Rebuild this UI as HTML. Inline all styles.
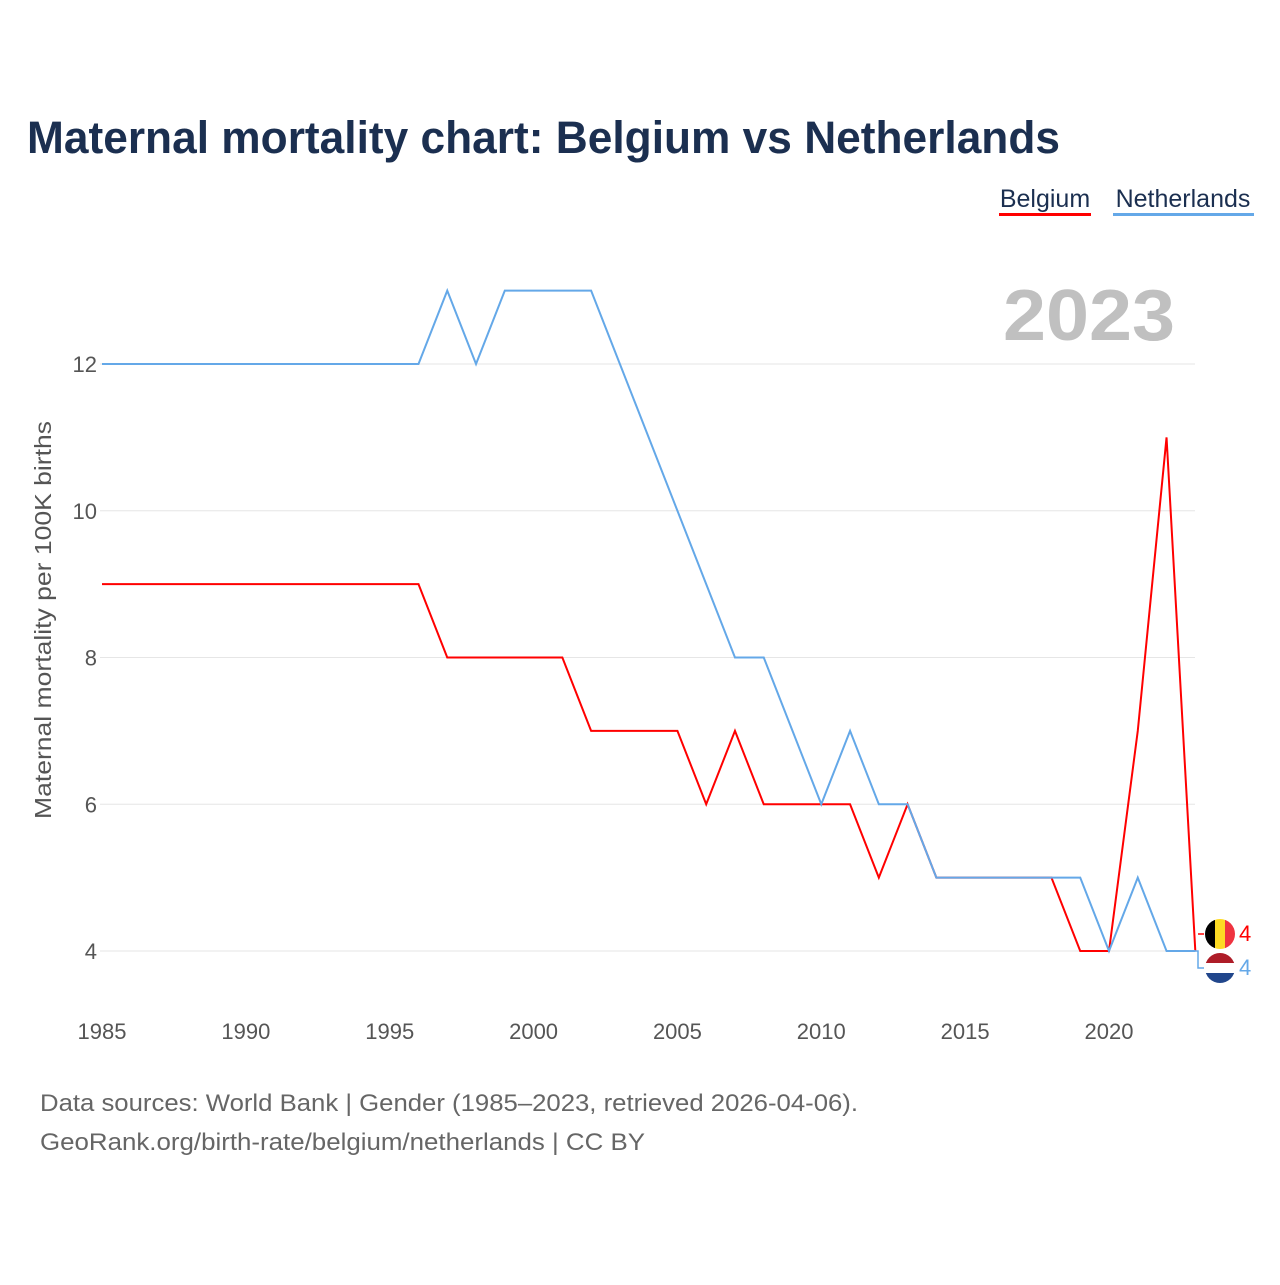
<!DOCTYPE html>
<html><head><meta charset="utf-8"><style>
body{margin:0;background:#fff;}
svg text{font-family:"Liberation Sans",sans-serif;}
</style></head><body>
<svg width="1280" height="1280" viewBox="0 0 1280 1280" xmlns="http://www.w3.org/2000/svg">
<defs>
<clipPath id="cb"><circle cx="1220" cy="934" r="15"/></clipPath>
<clipPath id="cn"><circle cx="1220" cy="968" r="15"/></clipPath>
</defs>
<text x="27" y="153" font-size="45" font-weight="bold" fill="#1b2f50" textLength="1033" lengthAdjust="spacingAndGlyphs">Maternal mortality chart: Belgium vs Netherlands</text>
<g>
<text x="1045" y="207" font-size="25" fill="#1b2f50" text-anchor="middle">Belgium</text>
<rect x="999" y="213" width="92" height="3" fill="#ff0000"/></g>
<g>
<text x="1183" y="207" font-size="25" fill="#1b2f50" text-anchor="middle">Netherlands</text>
<rect x="1113" y="213" width="141" height="3" fill="#64a8e8"/></g>
<text x="1175" y="340" font-size="72" font-weight="bold" fill="#c0c0c0" text-anchor="end" textLength="172" lengthAdjust="spacingAndGlyphs">2023</text>
<text transform="translate(51,620) rotate(-90)" font-size="23" fill="#555" text-anchor="middle" textLength="398" lengthAdjust="spacingAndGlyphs">Maternal mortality per 100K births</text>
<g id="grid"></g><g id="lines"></g>
<g>
<path d="M1198 934H1204" stroke="#ff0000" stroke-width="1.5"/>
<path d="M1195 951H1198V968H1204" stroke="#64a8e8" stroke-width="1.5" fill="none"/>
<g clip-path="url(#cb)"><rect x="1205" y="919" width="10" height="30" fill="#000"/><rect x="1215" y="919" width="10" height="30" fill="#fdda24"/><rect x="1225" y="919" width="10" height="30" fill="#ef3340"/></g>
<g clip-path="url(#cn)"><rect x="1205" y="953" width="30" height="10" fill="#ae1c28"/><rect x="1205" y="963" width="30" height="10" fill="#fff"/><rect x="1205" y="973" width="30" height="10" fill="#21468b"/></g>
<text x="1239" y="941" font-size="22" fill="#ff0000">4</text>
<text x="1239" y="975" font-size="22" fill="#64a8e8">4</text>
</g>
<text x="40" y="1111" font-size="24" fill="#666" textLength="818" lengthAdjust="spacingAndGlyphs">Data sources: World Bank | Gender (1985–2023, retrieved 2026-04-06).</text>
<text x="40" y="1150" font-size="24" fill="#666" textLength="605" lengthAdjust="spacingAndGlyphs">GeoRank.org/birth-rate/belgium/netherlands | CC BY</text>
</svg>
<script>
const years=[];for(let y=1985;y<=2023;y++)years.push(y);
const belgium=[9,9,9,9,9,9,9,9,9,9,9,9,8,8,8,8,8,7,7,7,7,6,7,6,6,6,6,5,6,5,5,5,5,5,4,4,7,11,4];
const netherlands=[12,12,12,12,12,12,12,12,12,12,12,12,13,12,13,13,13,13,12,11,10,9,8,8,7,6,7,6,6,5,5,5,5,5,5,4,5,4,4];
const yTicks=[4,6,8,10,12];
const xTicks=[1985,1990,1995,2000,2005,2010,2015,2020];
const NS="http://www.w3.org/2000/svg";
const xs=y=>102+(y-1985)*(1109-102)/35;
const ys=v=>951-(v-4)*(951-364)/8;
const grid=document.getElementById('grid'),lines=document.getElementById('lines');
function mk(t,a,p){const e=document.createElementNS(NS,t);for(const k in a)e.setAttribute(k,a[k]);p.appendChild(e);return e;}
yTicks.forEach(v=>{
 const l=mk('line',{x1:100,x2:1195,y1:ys(v),y2:ys(v),stroke:'#e6e6e6','stroke-width':1},grid);
 
 
 const t=mk('text',{x:97,y:ys(v)+8,'font-size':22,fill:'#555','text-anchor':'end'},grid);t.textContent=v;
 
 
});
xTicks.forEach(v=>{
 const t=mk('text',{x:xs(v),y:1039,'font-size':22,fill:'#555','text-anchor':'middle'},grid);t.textContent=v;
 
 
});
function line(d,c,n){
 const p=mk('polyline',{points:d.map((v,i)=>xs(years[i])+','+ys(v)).join(' '),fill:'none',stroke:c,'stroke-width':2},lines);
 
 
}
line(belgium,'#ff0000','belgium-line');
line(netherlands,'#64a8e8','netherlands-line');
</script>
</body></html>
